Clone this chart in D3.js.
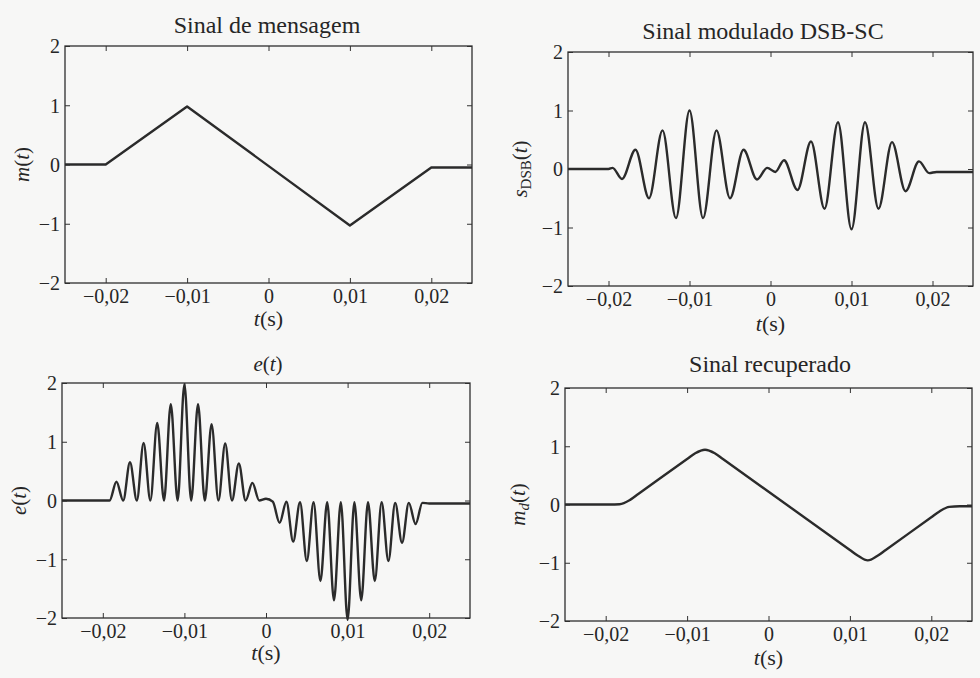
<!DOCTYPE html>
<html>
<head>
<meta charset="utf-8">
<script src="https://cdn.jsdelivr.net/npm/d3@7"></script>
<style>
  html, body { margin: 0; padding: 0; background: #f7f7f6; }
  svg { display: block; }
  text { font-family: "Liberation Serif", "DejaVu Serif", serif; fill: #262626; }
</style>
</head>
<body>
<div id="chart"></div>
<script>
// axis ticks shared by every panel
const xTicks = [-0.02, -0.01, 0, 0.01, 0.02];
const xTickLabels = ['\u22120,02', '\u22120,01', '0', '0,01', '0,02'];
const yTicks = [-2, -1, 0, 1, 2];
const yTickLabels = ['\u22122', '\u22121', '0', '1', '2'];

// m(t) - message signal (breakpoints)
const msgT = [-0.025, -0.02, -0.01, 0.01, 0.02, 0.025];
const msgV = [0, 0, 0.98, -1.03, -0.05, -0.05];

// s_DSB(t) - modulated signal (extrema)
const dsbT = [-0.025, -0.02, -0.0195, -0.01833, -0.01667, -0.015, -0.01333, -0.01167, -0.01,
  -0.00833, -0.00667, -0.005, -0.00333, -0.00167, -0.0004, 0.0006, 0.00167, 0.00333, 0.005,
  0.00667, 0.00833, 0.01, 0.01167, 0.01333, 0.015, 0.01667, 0.01833, 0.0196, 0.0205, 0.025];
const dsbV = [0, 0, 0.02, -0.17, 0.33, -0.5, 0.66, -0.84, 1.0,
  -0.84, 0.66, -0.5, 0.33, -0.18, 0.02, -0.05, 0.15, -0.36, 0.47,
  -0.68, 0.8, -1.03, 0.8, -0.68, 0.46, -0.38, 0.13, -0.07, -0.05, -0.05];

// e(t) - demodulator product (extrema)
const eT = [-0.025, -0.02, -0.01917, -0.01833, -0.0175, -0.01667, -0.01583, -0.015, -0.01417,
  -0.01333, -0.0125, -0.01167, -0.01083, -0.01, -0.00917, -0.00833, -0.0075, -0.00667, -0.00583,
  -0.005, -0.00417, -0.00333, -0.0025, -0.00167, -0.00083, 0, 0.00083, 0.00167, 0.0025, 0.00333,
  0.00417, 0.005, 0.00583, 0.00667, 0.0075, 0.00833, 0.00917, 0.01, 0.01083, 0.01167, 0.0125,
  0.01333, 0.01417, 0.015, 0.01583, 0.01667, 0.0175, 0.01833, 0.01917, 0.02, 0.025];
const eV = [0, 0, 0, 0.32, 0, 0.65, 0, 0.98, 0,
  1.32, 0, 1.64, 0, 1.98, 0, 1.64, 0, 1.3, 0,
  0.97, 0, 0.63, 0, 0.3, 0, 0.03, -0.02, -0.38, -0.02, -0.7,
  -0.03, -1.03, -0.03, -1.37, -0.03, -1.7, -0.03, -2.03, -0.03, -1.7, -0.03,
  -1.37, -0.03, -1.03, -0.04, -0.72, -0.04, -0.4, -0.04, -0.05, -0.05];

// m_d(t) - recovered signal (points along the ramps and round corners)
const mdT = [-0.025, -0.0195, -0.0183, -0.017, -0.016, -0.01, -0.009, -0.0078, -0.0066, -0.0056,
  0.01, 0.011, 0.0122, 0.0134, 0.0144, 0.02, 0.021, 0.0222, 0.0235, 0.025];
const mdV = [0, 0, 0.005, 0.08, 0.18, 0.78, 0.88, 0.94, 0.88, 0.78,
  -0.78, -0.88, -0.96, -0.88, -0.78, -0.22, -0.12, -0.04, -0.03, -0.03];

const svg = d3.select('#chart')
  .append('svg')
  .attr('width', 980)
  .attr('height', 678);

function drawPanel(cfg) {
  const [x0, y0, x1, y1] = cfg.box;

  const x = d3.scaleLinear().domain([-0.025, 0.025]).range([x0, x1]);
  const y = d3.scaleLinear().domain([-2, 2]).range([y1, y0]);

  const g = svg.append('g').attr('class', 'panel');

  // inward ticks on all four sides
  g.append('g')
    .attr('transform', `translate(0, ${y1})`)
    .call(d3.axisBottom(x).tickValues(xTicks).tickSizeInner(-5).tickSizeOuter(0)
      .tickFormat((d, i) => xTickLabels[i]))
    .call(a => a.select('.domain').remove())
    .call(a => a.selectAll('text').attr('y', 20).attr('dy', null).style('font-size', '20px'));

  g.append('g')
    .attr('transform', `translate(0, ${y0})`)
    .call(d3.axisTop(x).tickValues(xTicks).tickSizeInner(-5).tickSizeOuter(0).tickFormat(''))
    .call(a => a.select('.domain').remove());

  g.append('g')
    .attr('transform', `translate(${x0}, 0)`)
    .call(d3.axisLeft(y).tickValues(yTicks).tickSizeInner(-5).tickSizeOuter(0)
      .tickFormat((d, i) => yTickLabels[i]))
    .call(a => a.select('.domain').remove())
    .call(a => a.selectAll('text').attr('x', -5).attr('dy', '0.34em').style('font-size', '20px'));

  g.append('g')
    .attr('transform', `translate(${x1}, 0)`)
    .call(d3.axisRight(y).tickValues(yTicks).tickSizeInner(-5).tickSizeOuter(0).tickFormat(''))
    .call(a => a.select('.domain').remove());

  g.selectAll('.tick line').attr('stroke', '#333').attr('stroke-width', 1);

  g.append('rect')
    .attr('x', x0).attr('y', y0)
    .attr('width', x1 - x0).attr('height', y1 - y0)
    .attr('fill', 'none')
    .attr('stroke', '#2e2e2e')
    .attr('stroke-width', 1.3);

  const pts = cfg.t.map((t, i) => [t, cfg.v[i]]);
  g.append('path')
    .datum(pts)
    .attr('fill', 'none')
    .attr('stroke', '#2b2b2b')
    .attr('stroke-width', 2.4)
    .attr('stroke-linejoin', 'round')
    .attr('d', d3.line()
      .x(d => x(d[0]))
      .y(d => y(d[1]))
      .curve(cfg.curve));

  // title
  const title = g.append('text')
    .attr('x', cfg.titleX)
    .attr('y', cfg.titleY)
    .attr('text-anchor', 'middle')
    .style('font-size', cfg.titleSize + 'px');
  cfg.title(title);

  // x label t(s)
  const xl = g.append('text')
    .attr('x', x(0))
    .attr('y', cfg.xLabelY)
    .attr('text-anchor', 'middle')
    .style('font-size', '22px');
  xl.append('tspan').style('font-style', 'italic').text('t');
  xl.append('tspan').text('(s)');

  // y label
  const yl = g.append('text')
    .attr('transform', `translate(${cfg.yLabelX}, ${(y0 + y1) / 2}) rotate(-90)`)
    .attr('text-anchor', 'middle')
    .attr('dy', '0.3em')
    .style('font-size', '21px');
  cfg.yLabel(yl);
}

function funcLabel(sel, name, sub, subItalic) {
  sel.append('tspan').style('font-style', 'italic').text(name);
  if (sub) {
    sel.append('tspan')
      .attr('baseline-shift', '-28%')
      .style('font-size', '15px')
      .style('font-style', subItalic ? 'italic' : 'normal')
      .text(sub);
  }
  sel.append('tspan').text('(');
  sel.append('tspan').style('font-style', 'italic').text('t');
  sel.append('tspan').text(')');
}

drawPanel({
  box: [65, 46, 472, 283],
  t: msgT, v: msgV, curve: d3.curveLinear,
  titleX: 267, titleY: 33, titleSize: 24,
  title: s => s.text('Sinal de mensagem'),
  xLabelY: 326, yLabelX: 23,
  yLabel: s => funcLabel(s, 'm')
});

drawPanel({
  box: [568, 52, 973, 286],
  t: dsbT, v: dsbV, curve: d3.curveMonotoneX,
  titleX: 763, titleY: 39, titleSize: 24,
  title: s => s.text('Sinal modulado DSB-SC'),
  xLabelY: 331, yLabelX: 521,
  yLabel: s => funcLabel(s, 's', 'DSB', false)
});

drawPanel({
  box: [62, 383, 470, 618],
  t: eT, v: eV, curve: d3.curveMonotoneX,
  titleX: 268, titleY: 371, titleSize: 21,
  title: s => funcLabel(s, 'e'),
  xLabelY: 660, yLabelX: 20,
  yLabel: s => funcLabel(s, 'e')
});

drawPanel({
  box: [565, 388, 972, 621],
  t: mdT, v: mdV, curve: d3.curveMonotoneX,
  titleX: 770, titleY: 372, titleSize: 24,
  title: s => s.text('Sinal recuperado'),
  xLabelY: 665, yLabelX: 519,
  yLabel: s => funcLabel(s, 'm', 'd', true)
});
</script>
</body>
</html>
